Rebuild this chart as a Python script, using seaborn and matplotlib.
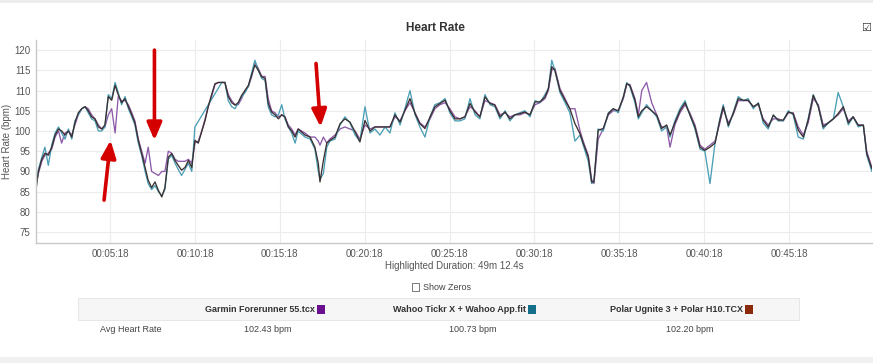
import matplotlib
matplotlib.use("Agg")
import matplotlib.pyplot as plt
from matplotlib.ticker import FuncFormatter, FixedLocator
from matplotlib.patches import Rectangle
import numpy as np
import pandas as pd
import seaborn as sns

# ---------------- data ----------------
elapsed_s = [57,65,77,88,100,112,124,136,147,159,171,183,194,206,218,230,241,253,265,277,289,300,312,324,336,347,359,371,383,395,406,418,430,442,453,465,477,489,501,512,524,536,548,559,571,583,595,607,618,630,642,654,665,677,689,701,713,724,736,748,760,771,783,795,807,819,830,842,854,866,877,889,901,913,925,936,948,960,972,983,
             1007,1025,1042,1054,1060,1072,1084,1095,1113,1131,1148,1166,1184,1201,1219,1237,1254,1272,1290,1307,1325,1343,1360,1378,1396,1413,1431,1449,1466,1484,1502,1519,1537,1555,1572,1590,1608,1625,1643,1661,1678,1696,1714,1731,1749,1767,1784,1802,1820,1837,1855,1867,1879,1890,1908,1926,1943,1961,1979,
             1990,2008,2020,2028,2043,2061,2079,2096,2114,2132,2144,2155,2173,2185,2197,2214,2232,2250,2267,2285,2297,2314,2332,2350,2367,2385,2403,2420,2438,2456,2473,2485,2503,2520,2538,2556,2573,2591,2609,2626,2644,2662,2679,2697,2715,2732,2750,2768,2785,2803,2821,2838,2856,2874,2891,2909,2927,2944,2962,2980,2992,3010]

garmin_bpm = [87,89.5,92.5,94,94.5,95.5,98.5,100,97,99.5,
              100,99,101.5,104,105.5,106,105.5,104,103,101.5,
              100.5,101,104,105.5,99.5,108.5,107.5,107.5,106.5,104.5,
              102.5,98,95,92,96,90,89.5,89,90,90,
              95,94.5,93,92.5,92.5,92.5,93,92,97,97.5,
              100,103,106,108.5,111.5,112,112,112,109,107.5,
              106.5,106.5,108,110,111,113.5,117,115.5,113.5,113.5,
              108,105,104.5,103.5,104,103.5,101.5,100.5,99,100.5,
              99.5,98.5,98.5,97.5,96.5,98.5,97,98,99,100.5,
              101,100.5,100,98,101.5,100.5,101,101,101,101,
              103.5,102.5,105,107,104.5,102,101,103,105.5,106.5,
              107,105.5,103.5,103,103.5,106,105,103.5,107.5,107,
              106.5,104,104.5,103.5,104,104,104.5,104,106.5,107,
              108,110,115,115.5,110.5,108,105.5,105.5,100,
              97.5,94,88,87,98,100.5,104,105,105,108,
              111.5,111.5,108,104,110,112,107,104,101,101,
              96,101.5,104.5,106.5,104.5,101.5,96.5,95.5,96.5,97.5,
              102,105.5,102,104,107.5,107.5,107.5,106,106.5,103,
              101.5,103,103,102.5,104.5,104.5,101,99,102,108,
              106.5,101.5,102,103,104,105.5,102.5,103.5,101.5,101.5,
              95,91]

wahoo_bpm = [85.5,90.5,93.5,96,91.5,96.5,99.5,101,99.5,98,
             100.5,98,102.5,104,105.5,106,104.5,103,102.5,100,
             100,101,109,108,112,109.5,106.5,108.5,105.5,103.5,
             101.5,97,94,90,87,85.5,86.5,85,84,85.5,
             93,94,92,90.5,89,90.5,92,90,101,None,
             None,None,None,None,None,None,112,112,107.5,106,
             105.5,107,108.5,109.5,111,114.5,117.5,115,113,112.5,
             106,104,103.5,104,106.5,103,101,99.5,97,100,
             98.5,98,95.5,90,88,89.5,96,97.5,98,101.5,
             103.5,102,99,97.5,106,99.5,100.5,99,101,99.5,
             104.5,101.5,105.5,110,104,101,98.5,103.5,106.5,107,
             108,104.5,102.5,102.5,103,108,104,103,109,106.5,
             106,103,105,102.5,104,104.5,105,103.5,107.5,107,
             109,110.5,117.5,115,109.5,107,104.5,97.5,99,
             96.5,92.5,87,87.5,100.5,100,104.5,105.5,104.5,108.5,
             112,111,107,103,104.5,106.5,105,103.5,100,101,
             98.5,102.5,105.5,107.5,104,100.5,95.5,95,87,97,
             103,106.5,101,104.5,108.5,107.5,108,105.5,107,102,
             100.5,104,102.5,102.5,105,104,98.5,98,103,109,
             106,100.5,102,103,109.5,106,101.5,103.5,101,101.5,
             94,90]

polar_bpm = [86,90,93,94.5,94,96,99,100.5,100,99,
             100,98.5,102,104.5,105.5,106,105,103.5,103,101,
             100.5,101.5,108.5,107.6,111.3,109,107,108,106,104,
             102,97.7,94.4,91,87.8,86,87.4,85.3,83.7,86,
             93.5,94.4,92.7,91.5,90.3,91,92.7,91,97.7,97,
             99.8,102.6,106,109,111.7,112,112,112,108.5,107,
             106.4,107,108.8,110,111.3,114,116.3,115,113.4,113,
             106.8,104.7,104,103,104,103.5,101,100,98.5,100.5,
             99,98.5,96,92,87.4,92.7,97,97.7,98.5,101.8,
             103,102.2,99.8,97.3,102.6,100,101,101,101,101,
             104,102.2,105.1,108,104.3,101.8,100.6,103.5,106,106.8,
             107.6,105,103,103,103.5,106.8,104.7,103.5,108.4,106.8,
             106.4,103.5,104.7,103,104,104.3,104.7,104,107.2,107.2,
             108.4,110.5,115.9,115,110,107.6,105.5,101.8,99.3,
             97,93.6,87.4,87.4,100.2,100.6,104.3,105.5,105,108.4,
             111.7,111.3,107.6,103.5,105,106,105,103.9,100.6,101.5,
             99,102,105,107,104,101,96,95.2,96,97,
             102.7,106,101.4,104.3,108,107.6,107.6,106,106.8,102.7,
             101,103.9,102.7,102.7,104.7,104.3,100.2,98.5,102.7,108.8,
             106,101,102,103,104.3,106,102,103.5,101.4,101.4,
             94.4,90.7]

devices = ["Garmin Forerunner 55.tcx", "Wahoo Tickr X + Wahoo App.fit", "Polar Ugnite 3 + Polar H10.TCX"]
avg_labels = ["102.43 bpm", "100.73 bpm", "102.20 bpm"]
swatch_colors = ["#6a0f8e", "#136f8a", "#8b2a0a"]
line_colors = ["#8d5aa8", "#4b9fb6", "#3b3030"]

x_tick_s = [318, 618, 918, 1218, 1518, 1818, 2118, 2418, 2718]
y_ticks = [75, 80, 85, 90, 95, 100, 105, 110, 115, 120]

arrow_tail_s = [297, 475, 1046]
arrow_tail_bpm = [82.9, 120.0, 116.7]
arrow_head_s = [320, 475, 1062]
arrow_head_bpm = [97.7, 97.7, 101.0]

# ---------------- figure ----------------
sns.set_theme(style="white")
plt.rcParams["font.family"] = ["Liberation Sans", "DejaVu Sans"]

W, H = 873, 363
fig = plt.figure(figsize=(W / 100, H / 100), dpi=100)
fig.patch.set_facecolor("white")

def fx(px):
    return px / W

def fy(py):
    return 1 - py / H

ax = fig.add_axes([fx(36), fy(243), fx(872) - fx(36), fy(40) - fy(243)])

frames = []
for name, vals in zip(devices, [garmin_bpm, wahoo_bpm, polar_bpm]):
    frames.append(pd.DataFrame({"t": elapsed_s, "bpm": vals, "device": name}))
df = pd.concat(frames, ignore_index=True).dropna()
df["bpm"] = df["bpm"].astype(float)

sns.lineplot(data=df, x="t", y="bpm", hue="device", hue_order=devices,
             palette=dict(zip(devices, line_colors)), estimator=None, sort=False,
             linewidth=0.95, legend=False, ax=ax)

ax.set_xlim(56.5, 3010.6)
ax.set_ylim(72.3, 122.5)
ax.xaxis.set_major_locator(FixedLocator(x_tick_s))
ax.yaxis.set_major_locator(FixedLocator(y_ticks))

def fmt_time(v, pos):
    v = int(round(v))
    return f"{v // 3600:02d}:{(v % 3600) // 60:02d}:{v % 60:02d}"

ax.xaxis.set_major_formatter(FuncFormatter(fmt_time))
ax.grid(True, color="#ececec", linewidth=0.8)
ax.tick_params(axis="both", labelsize=7, labelcolor="#555555", length=0, pad=4)
for s in ["top", "right"]:
    ax.spines[s].set_visible(False)
for s in ["left", "bottom"]:
    ax.spines[s].set_color("#c8c8c8")
    ax.spines[s].set_linewidth(1.0)
ax.set_xlabel("Highlighted Duration: 49m 12.4s", fontsize=7, color="#555555", labelpad=2)
ax.set_ylabel("Heart Rate (bpm)", fontsize=7, color="#555555", labelpad=3)
ax.yaxis.set_label_coords(-(36 - 12) / (872 - 36), 0.5)

for ts, tb, hs, hb in zip(arrow_tail_s, arrow_tail_bpm, arrow_head_s, arrow_head_bpm):
    ax.annotate("", xy=(hs, hb), xytext=(ts, tb), annotation_clip=False,
                arrowprops=dict(arrowstyle="-|>,head_length=0.75,head_width=0.32",
                                color="#d40000", lw=2.6, mutation_scale=14,
                                shrinkA=0, shrinkB=0))

# title and icon
fig.text(fx(435), fy(28), "Heart Rate", ha="center", va="center", fontsize=8.5,
         fontweight="bold", color="#333333")
fig.text(fx(866), fy(28), "\u2611", ha="center", va="center", fontsize=8,
         color="#333333", family=["DejaVu Sans"])

# top / bottom bands
fig.add_artist(Rectangle((0, fy(3)), 1, fy(0) - fy(3), transform=fig.transFigure,
                         facecolor="#ededed", edgecolor="none"))
fig.add_artist(Rectangle((0, 0), 1, fy(357), transform=fig.transFigure,
                         facecolor="#f0f0f0", edgecolor="none"))

# show zeros checkbox
fig.add_artist(Rectangle((fx(412), fy(290.5)), fx(7), fy(283.5) - fy(290.5), transform=fig.transFigure,
                         facecolor="white", edgecolor="#777777", linewidth=0.7))
fig.text(fx(423), fy(287), "Show Zeros", ha="left", va="center", fontsize=6.5, color="#444444")

# table header band
fig.add_artist(Rectangle((fx(78), fy(320)), fx(799) - fx(78), fy(298) - fy(320),
                         transform=fig.transFigure, facecolor="#f6f6f6",
                         edgecolor="#e4e4e4", linewidth=0.6))
text_ends = [315, 526, 743]
val_centers = [268, 473, 690]
for name, col, xe, vc, avg in zip(devices, swatch_colors, text_ends, val_centers, avg_labels):
    fig.text(fx(xe), fy(309), name, ha="right", va="center", fontsize=6.5,
             fontweight="bold", color="#333333")
    fig.add_artist(Rectangle((fx(xe + 2), fy(313.5)), fx(8), fy(304.5) - fy(313.5),
                             transform=fig.transFigure, facecolor=col, edgecolor="none"))
    fig.text(fx(vc), fy(329), avg, ha="center", va="center", fontsize=6.5, color="#444444")
fig.text(fx(100), fy(329), "Avg Heart Rate", ha="left", va="center", fontsize=6.5, color="#444444")

fig.savefig("out.png", dpi=100, facecolor="white")
